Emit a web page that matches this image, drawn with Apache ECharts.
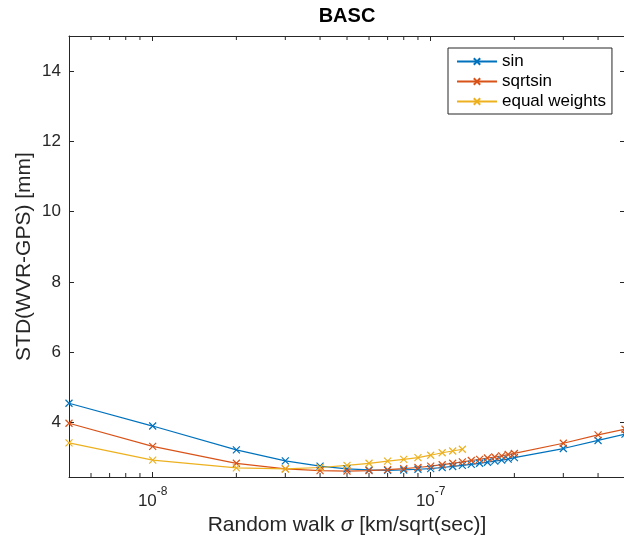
<!DOCTYPE html>
<html>
<head>
<meta charset="utf-8">
<script src="https://cdn.jsdelivr.net/npm/echarts@6/dist/echarts.min.js"></script>
<style>html,body{margin:0;padding:0;background:#fff;}#c{width:624px;height:538px;}</style>
</head>
<body>
<div id="c"></div>
<script>
const titleText = 'BASC';
const seriesNames = ['sin', 'sqrtsin', 'equal weights'];
const sigmaX = [5e-9, 1e-8, 2e-8, 3e-8, 4e-8, 5e-8, 6e-8, 7e-8, 8e-8, 9e-8, 1e-7, 1.1e-7, 1.2e-7, 1.3e-7, 1.4e-7, 1.5e-7, 1.6e-7, 1.7e-7, 1.8e-7, 1.9e-7, 2e-7, 3e-7, 4e-7, 5e-7];
const sinY = [4.55, 3.90, 3.22, 2.91, 2.76, 2.68, 2.65, 2.64, 2.65, 2.67, 2.69, 2.72, 2.75, 2.78, 2.81, 2.84, 2.87, 2.90, 2.93, 2.96, 3.00, 3.26, 3.49, 3.67];
const sqrtsinY = [3.98, 3.32, 2.84, 2.68, 2.63, 2.62, 2.63, 2.66, 2.69, 2.72, 2.76, 2.80, 2.84, 2.88, 2.92, 2.95, 2.99, 3.02, 3.05, 3.09, 3.12, 3.41, 3.65, 3.81];
const equalX = [5e-9, 1e-8, 2e-8, 3e-8, 4e-8, 5e-8, 6e-8, 7e-8, 8e-8, 9e-8, 1e-7, 1.1e-7, 1.2e-7, 1.3e-7];
const equalY = [3.42, 2.93, 2.71, 2.68, 2.72, 2.78, 2.84, 2.90, 2.95, 3.00, 3.07, 3.14, 3.19, 3.24];
const xMin = 5e-9, xMax = 5e-7;
const yMin = 2.45, yMax = 15;
const minorTickValues = [6e-9, 7e-9, 8e-9, 9e-9, 2e-8, 3e-8, 4e-8, 5e-8, 6e-8, 7e-8, 8e-8, 9e-8, 2e-7, 3e-7, 4e-7];
const colors = ['#0072BD', '#D95319', '#EDB120'];

const FONT = 'Liberation Sans, Arial, Helvetica, sans-serif';
const AX = '#262626';
const crossPath = 'path://M0,0L10,10M10,0L0,10';

function pairs(xs, ys) { return xs.map((x, i) => [x, ys[i]]); }

const chart = echarts.init(document.getElementById('c'), null, {renderer: 'canvas'});

function mkSeries(name, data, color) {
  return {
    name: name, type: 'line', data: data,
    xAxisIndex: 0, yAxisIndex: 0,
    symbol: crossPath, symbolSize: 7,
    lineStyle: {color: color, width: 1.2},
    itemStyle: {color: 'rgba(0,0,0,0)', borderColor: color, borderWidth: 1.2},
    emphasis: {disabled: true},
    animation: false
  };
}

const baseX = {
  type: 'log', logBase: 10, min: xMin, max: xMax,
  axisLine: {show: true, onZero: false, lineStyle: {color: AX, width: 1}},
  axisTick: {show: true, inside: true, length: 5, lineStyle: {color: AX}},
  splitLine: {show: false}
};
const baseY = {
  type: 'value', min: yMin, max: yMax, splitNumber: 6,
  axisLine: {show: true, onZero: false, lineStyle: {color: AX, width: 1}},
  axisTick: {show: true, inside: true, length: 5, lineStyle: {color: AX}},
  splitLine: {show: false}
};

chart.setOption({
  animation: false,
  backgroundColor: '#fff',
  title: {
    text: titleText, left: 347, top: 6, textAlign: 'center', padding: 0,
    textStyle: {fontFamily: FONT, fontSize: 20, fontWeight: 'bold', color: '#000'}
  },
  grid: {left: 69, right: -1, top: 36, bottom: 61, containLabel: false, outerBoundsMode: 'none'},
  legend: {
    orient: 'vertical', left: 448, top: 48,
    padding: [5, 6, 4, 8], itemGap: 3, itemWidth: 40, itemHeight: 8,
    borderColor: AX, borderWidth: 1, backgroundColor: '#fff',
    textStyle: {fontFamily: FONT, fontSize: 17, color: '#000'},
    data: seriesNames
  },
  xAxis: [
    Object.assign({}, baseX, {
      position: 'bottom',
      name: 'Random walk {i|σ} [km/sqrt(sec)]',
      nameLocation: 'middle', nameGap: 38, nameMoveOverlap: false,
      nameTextStyle: {fontFamily: FONT, fontSize: 21, color: AX,
        rich: {i: {fontFamily: FONT, fontSize: 21, fontStyle: 'italic', color: AX}}},
      axisLabel: {
        show: true, margin: 9, showMinLabel: false, showMaxLabel: false,
        formatter: function (v) {
          const e = Math.round(Math.log10(v));
          return '{b|10}{s|' + e + '}';
        },
        rich: {
          b: {fontFamily: FONT, fontSize: 17, color: AX, lineHeight: 24, verticalAlign: 'bottom'},
          s: {fontFamily: FONT, fontSize: 12, color: AX, lineHeight: 24, verticalAlign: 'top'}
        }
      }
    }),
    Object.assign({}, baseX, {position: 'top', axisLabel: {show: false}})
  ],
  yAxis: [
    Object.assign({}, baseY, {
      position: 'left',
      name: 'STD(WVR-GPS) [mm]', nameLocation: 'middle', nameGap: 34, nameRotate: 90,
      nameMoveOverlap: false,
      nameTextStyle: {fontFamily: FONT, fontSize: 21, color: AX},
      axisLabel: {show: true, margin: 8, showMinLabel: false, showMaxLabel: false,
        fontFamily: FONT, fontSize: 17, color: AX}
    }),
    Object.assign({}, baseY, {position: 'right', axisLabel: {show: false}})
  ],
  series: [
    mkSeries(seriesNames[0], pairs(sigmaX, sinY), colors[0]),
    mkSeries(seriesNames[1], pairs(sigmaX, sqrtsinY), colors[1]),
    mkSeries(seriesNames[2], pairs(equalX, equalY), colors[2])
  ]
});

// minor ticks of the log axis, placed through the axis scale
const yBottom = chart.convertToPixel({yAxisIndex: 0}, yMin);
const yTop = chart.convertToPixel({yAxisIndex: 0}, yMax);
const g = [];
minorTickValues.forEach(function (v) {
  const px = chart.convertToPixel({xAxisIndex: 0}, v);
  g.push({type: 'line', shape: {x1: px, y1: yBottom, x2: px, y2: yBottom - 4}, style: {stroke: AX, lineWidth: 1}, silent: true});
  g.push({type: 'line', shape: {x1: px, y1: yTop, x2: px, y2: yTop + 4}, style: {stroke: AX, lineWidth: 1}, silent: true});
});
chart.setOption({graphic: g});
</script>
</body>
</html>
